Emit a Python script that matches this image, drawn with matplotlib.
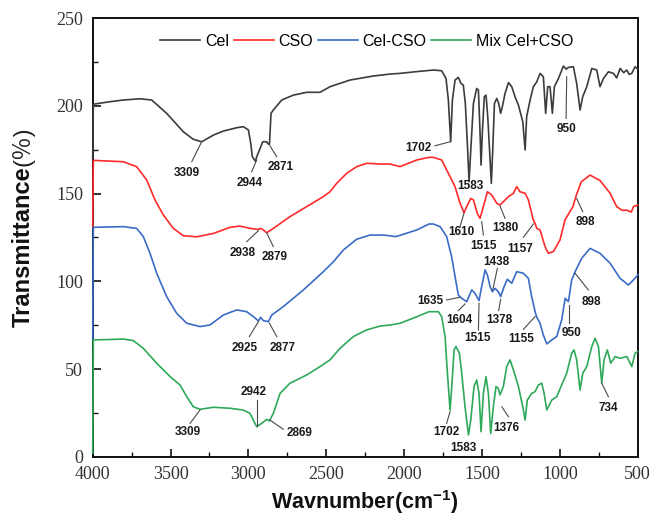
import matplotlib
matplotlib.use("Agg")
import matplotlib.pyplot as plt
from matplotlib.ticker import MultipleLocator

plt.rcParams['mathtext.fontset'] = 'custom'
plt.rcParams['mathtext.rm'] = 'Liberation Sans'
plt.rcParams['mathtext.bf'] = 'Liberation Sans:bold'

# ---------------- data (wavenumber cm-1, transmittance %) ----------------
cel_w = [4000, 3996, 3900, 3803, 3696, 3621, 3525, 3418, 3354, 3300, 3225, 3161, 3075, 3032, 3000,
         2985, 2975, 2964, 2955, 2947, 2925, 2908, 2883, 2872, 2865, 2858, 2855, 2840, 2786, 2711,
         2626, 2540, 2476, 2347, 2197, 2090, 2026, 1919, 1812, 1759, 1731, 1716, 1701, 1690, 1673,
         1652, 1635, 1620, 1607, 1592, 1583, 1572, 1555, 1534, 1523, 1513, 1506, 1497, 1485, 1474,
         1463, 1448, 1440, 1431, 1420, 1405, 1393, 1380, 1367, 1352, 1330, 1309, 1288, 1266, 1238,
         1223, 1213, 1191, 1170, 1148, 1127, 1106, 1091, 1078, 1063, 1048, 1035, 1009, 977, 960,
         945, 913, 892, 870, 853, 827, 795, 763, 742, 720, 688, 656, 635, 613, 590, 570, 555,
         538, 517, 500]
cel_t = [170, 201.0, 202.3, 203.4, 204.1, 203.4, 195.8, 185.3, 181.0, 179.6, 183.4, 185.7, 187.6, 188.2, 186.3,
         178.7, 171.1, 169.6, 168.5, 171.0, 175.8, 179.6, 179.6, 178.3, 178.0, 190.0, 195.8, 197.7, 203.4, 206.2,
         207.8, 207.8, 211.0, 214.8, 217.1, 218.2, 218.6, 219.6, 220.5, 220.1, 215.7, 203.4, 179.6, 203.4, 214.8,
         216.3, 212.9, 211.9, 201.5, 174.9, 156.8, 174.9, 201.5, 210.0, 209.1, 186.3, 166.3, 186.3, 205.3, 206.2,
         193.9, 169.2, 155.9, 174.9, 201.5, 204.3, 201.5, 195.8, 200.5, 207.2, 213.3, 211.0, 205.3, 200.5, 191.0,
         174.9, 193.9, 203.4, 211.0, 213.8, 218.6, 216.7, 195.8, 211.0, 211.0, 195.8, 211.0, 215.7, 222.8, 221.0,
         222.0, 222.4, 212.9, 197.7, 205.3, 211.0, 221.4, 220.5, 211.0, 215.7, 219.5, 218.6, 216.0, 221.4, 219.0, 220.5, 218.0,
         218.6, 222.4, 221.0]

cso_w = [4000, 3996, 3900, 3803, 3718, 3653, 3600, 3546, 3482, 3418, 3332, 3225, 3118, 3054, 2990,
         2936, 2921, 2904, 2883, 2840, 2733, 2626, 2519, 2476, 2433, 2369, 2305, 2240, 2155, 2090,
         2026, 1919, 1840, 1812, 1759, 1716, 1673, 1641, 1615, 1598, 1572, 1555, 1530, 1513, 1491,
         1465, 1437, 1405, 1384, 1363, 1330, 1298, 1277, 1256, 1223, 1202, 1170, 1159, 1148, 1127,
         1095, 1074, 1041, 999, 967, 916, 894, 862, 806, 742, 677, 635, 600, 570, 541, 527, 500]
cso_t = [131, 169.0, 168.6, 168.2, 165.4, 157.8, 146.4, 137.8, 130.2, 126.0, 125.4, 127.3, 130.8, 131.5, 130.2,
         129.6, 130.2, 129.3, 127.7, 130.2, 136.9, 142.6, 148.3, 151.1, 155.9, 161.6, 165.4, 167.3, 166.9, 166.9,
         165.4, 169.2, 170.7, 170.7, 169.2, 161.6, 154.0, 144.5, 139.1, 142.6, 147.3, 146.4, 138.8, 135.9, 142.6,
         151.1, 149.2, 144.5, 143.5, 145.4, 148.3, 150.2, 154.0, 151.1, 150.2, 146.4, 134.9, 133.0, 130.2, 129.3,
         119.8, 116.0, 117.0, 123.6, 135.0, 142.6, 149.2, 156.8, 160.6, 157.5, 150.2, 142.6, 140.5, 140.6, 139.5, 142.6, 143.5]

ccso_w = [4000, 3996, 3900, 3803, 3718, 3675, 3632, 3589, 3525, 3461, 3396, 3311, 3247, 3161, 3075,
          3011, 2968, 2936, 2921, 2904, 2872, 2850, 2776, 2647, 2519, 2454, 2390, 2305, 2219, 2133,
          2052, 1919, 1840, 1812, 1769, 1727, 1695, 1673, 1652, 1630, 1598, 1566, 1545, 1519, 1502,
          1480, 1465, 1448, 1433, 1416, 1395, 1380, 1358, 1337, 1309, 1277, 1234, 1202, 1181, 1159,
          1148, 1127, 1106, 1084, 1052, 1020, 988, 966, 945, 924, 902, 860, 806, 742, 677, 613,
          560, 527, 500]
ccso_t = [67, 130.8, 131.0, 131.2, 130.2, 125.5, 116.0, 104.6, 91.3, 81.8, 76.1, 74.2, 75.1, 80.8, 83.7,
          82.7, 79.9, 77.4, 79.5, 77.6, 77.0, 80.8, 85.6, 95.1, 105.5, 111.2, 117.9, 124.0, 126.4, 126.4,
          125.5, 129.3, 132.7, 132.7, 131.2, 125.5, 114.1, 102.7, 92.2, 90.3, 88.4, 95.1, 93.2, 89.0, 97.0,
          106.5, 103.6, 97.0, 94.1, 96.0, 94.1, 91.3, 97.0, 101.2, 98.9, 105.5, 104.6, 101.7, 91.3, 82.7,
          79.5, 76.1, 69.4, 64.3, 66.6, 68.5, 78.0, 90.3, 88.4, 100.8, 105.5, 113.1, 118.8, 116.0, 110.3, 101.7,
          97.9, 100.8, 103.6]

mix_w = [4000, 3996, 3900, 3803, 3739, 3675, 3589, 3503, 3439, 3396, 3354, 3311, 3225, 3118, 3032,
         2990, 2964, 2947, 2915, 2883, 2865, 2840, 2797, 2733, 2626, 2540, 2476, 2412, 2326, 2241,
         2155, 2090, 2026, 1919, 1840, 1780, 1759, 1737, 1722, 1705, 1694, 1679, 1667, 1645, 1630,
         1609, 1587, 1572, 1551, 1534, 1519, 1506, 1491, 1474, 1459, 1444, 1427, 1410, 1395, 1384,
         1363, 1341, 1320, 1298, 1266, 1238, 1223, 1209, 1181, 1159, 1138, 1116, 1101, 1084, 1052,
         1020, 988, 956, 924, 909, 892, 870, 853, 827, 795, 774, 752, 731, 716, 695, 673, 645,
         613, 570, 538, 517, 500]
mix_t = [2, 66.6, 66.8, 67.1, 66.2, 61.8, 53.3, 45.7, 40.9, 34.2, 28.5, 27.0, 28.2, 27.6, 26.6,
         24.7, 20.0, 17.1, 19.0, 21.3, 20.4, 24.7, 36.1, 41.9, 46.6, 51.4, 55.2, 61.8, 68.5, 72.3,
         74.5, 75.1, 76.1, 79.8, 82.7, 82.7, 79.9, 68.5, 47.6, 26.6, 40.0, 60.9, 62.8, 59.0, 47.6,
         28.5, 12.4, 20.9, 40.0, 43.7, 36.1, 14.3, 36.1, 45.6, 36.1, 13.3, 28.5, 40.0, 39.0, 35.2,
         40.0, 51.4, 55.2, 49.5, 40.0, 28.5, 20.9, 32.3, 36.1, 37.1, 40.9, 41.9, 36.1, 26.6, 32.3,
         34.2, 40.9, 47.6, 59.0, 60.9, 55.2, 38.0, 47.6, 51.4, 62.8, 67.5, 62.8, 41.9, 55.2, 60.9, 53.3, 57.1,
         56.1, 57.1, 51.4, 59.0, 60.0]

series_names = ['Cel', 'CSO', 'Cel-CSO', 'Mix Cel+CSO']
series_w = [cel_w, cso_w, ccso_w, mix_w]
series_t = [cel_t, cso_t, ccso_t, mix_t]
series_colors = ['#3c3c3c', '#ff2a2a', '#3a6cc6', '#2fa85a']

# peak annotations: label, curve point, leader end, label centre
ann_labels = ['3309', '2944', '2871', '1702', '1583', '950',
              '2938', '2879', '1610', '1515', '1380', '1157', '898',
              '2925', '2877', '1635', '1604', '1515', '1438', '1378', '1155', '950', '898',
              '3309', '2942', '2869', '1702', '1583', '1376', '734']
ann_point = [(3300, 179.6), (2947, 169.2), (2861, 177.2), (1705, 179.6), None, (956, 216.7),
             (2936, 128.9), (2883, 127.7), (1615, 139.1), (1502, 134.0), (1384, 142.9), (1170, 132.7), (892, 147.3),
             (2936, 77.0), (2865, 76.1), (1641, 90.9), (1609, 87.1), (1519, 87.5), (1431, 95.1), (1380, 89.8),
             (1159, 79.9), (941, 86.5), (902, 104.6),
             (3311, 26.6), (2947, 17.5), (2861, 20.9), (1705, 25.7), None, (1373, 28.5), (731, 41.9)]
ann_end = [(3364, 168.2), (2979, 162.5), (2818, 171.0), (1802, 177.3), None, (960, 192.9),
           (3011, 122.6), (2840, 119.8), (1641, 131.1), (1491, 126.4), (1352, 135.9), (1234, 125.1), (853, 139.7),
           (2994, 68.5), (2818, 68.5), (1727, 89.4), (1652, 83.3), (1523, 72.3), (1401, 107.4), (1393, 83.3),
           (1234, 72.6), (941, 76.1), (817, 95.1),
           (3375, 19.0), (2947, 32.3), (2776, 15.6), (1727, 19.0), None, (1330, 22.8), (688, 34.2)]
ann_text = [(3396, 162.0), (2994, 156.2), (2793, 165.0), (1909, 176.2), (1577, 154.3), (960, 186.8),
            (3039, 116.3), (2829, 114.0), (1630, 128.0), (1491, 120.2), (1352, 130.2), (1256, 118.3), (838, 134.0),
            (3022, 61.8), (2780, 61.8), (1829, 88.8), (1645, 78.0), (1527, 67.5), (1405, 110.9), (1388, 78.0),
            (1251, 67.1), (924, 70.4), (795, 88.4),
            (3386, 14.3), (2968, 36.7), (2673, 13.7), (1731, 14.3), (1619, 4.8), (1341, 16.2), (688, 27.6)]

# ---------------- figure ----------------
fig = plt.figure(figsize=(6.52, 5.19), dpi=100)
ax = fig.add_axes([92.7 / 652, 1 - 456.7 / 519, 545 / 652, 438.4 / 519])

for name, w, t, c in zip(series_names, series_w, series_t, series_colors):
    ax.plot(w, t, color=c, lw=1.2, label=name, clip_on=False, zorder=3)

for lab, p, e, tp in zip(ann_labels, ann_point, ann_end, ann_text):
    if p is not None:
        ax.plot([p[0], e[0]], [p[1], e[1]], color='#4a4a4a', lw=0.8, zorder=4)
    ax.text(tp[0], tp[1], lab, ha='center', va='center', fontsize=8.5,
            fontweight='bold', family='Liberation Sans', color='#1a1a1a', zorder=5)

ax.set_xlim(4000, 500)
ax.set_ylim(0, 250)
ax.xaxis.set_major_locator(MultipleLocator(500))
ax.xaxis.set_minor_locator(MultipleLocator(250))
ax.yaxis.set_major_locator(MultipleLocator(50))
ax.yaxis.set_minor_locator(MultipleLocator(25))
ax.tick_params(which='both', direction='in', top=False, right=False, colors='#111')
ax.tick_params(which='major', length=6, width=1.2, labelsize=13, pad=7)
ax.tick_params(which='minor', length=3.5, width=1.0)
for lbl in ax.get_xticklabels() + ax.get_yticklabels():
    lbl.set_family('Liberation Serif')
    lbl.set_color('#333')
for s in ax.spines.values():
    s.set_linewidth(1.4)
    s.set_color('#111')

leg = ax.legend(loc='center', bbox_to_anchor=(0.503, 0.947), ncol=4, frameon=False,
                prop={'family': 'Liberation Sans', 'size': 11.5}, handlelength=2.5,
                handletextpad=0.3, columnspacing=0.3, borderaxespad=0)

# axis titles
t1 = fig.text(23 / 652, 1 - 327 / 519, 'Transmittance', rotation=90, rotation_mode='anchor',
              ha='left', va='center', fontsize=17, fontweight='bold', family='Liberation Sans', color='#111')
fig.canvas.draw()
ax.annotate('(％)', xy=(0.5, 1.0), xycoords=t1, rotation=90, rotation_mode='anchor',
            ha='left', va='center', fontsize=17, family=['Liberation Sans', 'Noto Sans CJK SC'],
            color='#222', annotation_clip=False)

fig.text(365 / 652, 1 - 502 / 519, r'Wavnumber(cm$^{\mathbf{-1}}$)', ha='center', va='center',
         fontsize=15.5, fontweight='bold', family='Liberation Sans', color='#111')

fig.savefig('out.png', dpi=100)
